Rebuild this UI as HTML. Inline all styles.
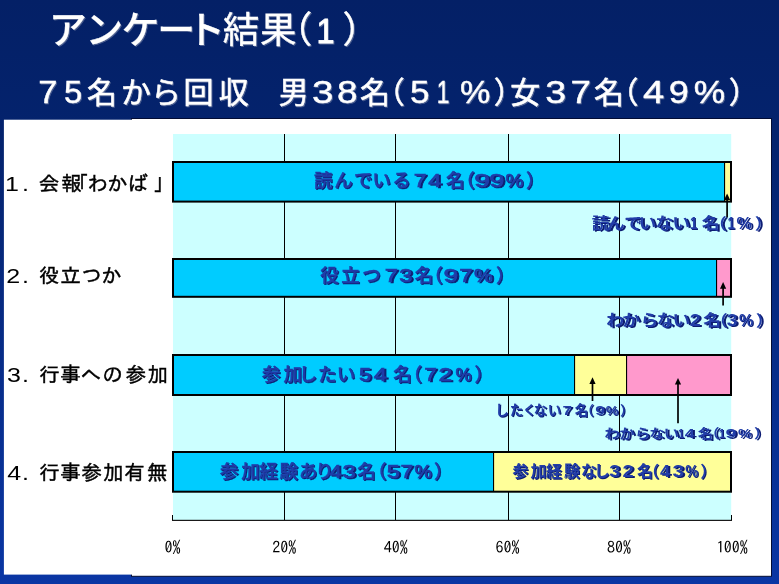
<!DOCTYPE html>
<html lang="ja"><head><meta charset="utf-8"><title>アンケート結果（1）</title>
<style>html,body{margin:0;padding:0;background:#0a2f96;overflow:hidden}svg{display:block}text{white-space:pre}</style></head>
<body>
<svg width="779" height="584" viewBox="0 0 779 584">
<defs>
<linearGradient id="bg" x1="0" y1="0" x2="0" y2="1"><stop offset="0" stop-color="#042066"/><stop offset="0.25" stop-color="#04236e"/><stop offset="1" stop-color="#0a36a4"/></linearGradient>
<filter id="sh" x="-25%" y="-20%" width="150%" height="150%"><feOffset in="SourceAlpha" dx="1.4" dy="1.4" result="o"/><feFlood flood-color="#0c1f72"/><feComposite in2="o" operator="in" result="s"/><feMerge><feMergeNode in="s"/><feMergeNode in="SourceGraphic"/></feMerge></filter>
<filter id="tsh" x="-25%" y="-20%" width="150%" height="150%"><feOffset in="SourceAlpha" dx="1.2" dy="1.2" result="o"/><feFlood flood-color="#8a93b0" flood-opacity="0.55"/><feComposite in2="o" operator="in" result="s"/><feMerge><feMergeNode in="s"/><feMergeNode in="SourceGraphic"/></feMerge></filter>
</defs>
<rect width="779" height="584" fill="url(#bg)"/>
<rect x="131.5" y="118.5" width="640" height="457.8" fill="#fff" stroke="#020c34" stroke-width="1"/>
<rect x="3.9" y="119.7" width="129" height="454.9" fill="#fff"/>
<rect x="173.0" y="134.0" width="558.2" height="386.0" fill="#ccffff"/>
<rect x="284" y="134.0" width="1" height="386.0" fill="#000"/>
<rect x="395" y="134.0" width="1" height="386.0" fill="#000"/>
<rect x="508" y="134.0" width="1" height="386.0" fill="#000"/>
<rect x="619" y="134.0" width="1" height="386.0" fill="#000"/>
<rect x="172" y="519.8" width="560" height="1.1" fill="#000"/>
<rect x="172" y="515" width="1" height="5" fill="#000"/>
<rect x="731" y="515" width="1" height="5" fill="#000"/>
<rect x="173" y="162" width="551.5" height="39.6" fill="#00ccff"/><rect x="724" y="162" width="7.5" height="39.6" fill="#ffff99"/><rect x="724" y="162" width="1.1" height="39.6" fill="#000"/><rect x="173" y="162" width="558" height="39.6" fill="none" stroke="#000" stroke-width="2"/>
<rect x="173" y="259" width="543.5" height="37.8" fill="#00ccff"/><rect x="716" y="259" width="15.5" height="37.8" fill="#ff99cc"/><rect x="716" y="259" width="1.1" height="37.8" fill="#000"/><rect x="173" y="259" width="558" height="37.8" fill="none" stroke="#000" stroke-width="2"/>
<rect x="173" y="355" width="401.5" height="40.0" fill="#00ccff"/><rect x="574" y="355" width="52.5" height="40.0" fill="#ffff99"/><rect x="626" y="355" width="105.5" height="40.0" fill="#ff99cc"/><rect x="574" y="355" width="1.1" height="40.0" fill="#000"/><rect x="626" y="355" width="1.1" height="40.0" fill="#000"/><rect x="173" y="355" width="558" height="40.0" fill="none" stroke="#000" stroke-width="2"/>
<rect x="173" y="452" width="320.5" height="39.7" fill="#00ccff"/><rect x="493" y="452" width="238.5" height="39.7" fill="#ffff99"/><rect x="493" y="452" width="1.1" height="39.7" fill="#000"/><rect x="173" y="452" width="558" height="39.7" fill="none" stroke="#000" stroke-width="2"/>
<path d="M727.1 217.4 V197.4" stroke="#000" stroke-width="1.7" fill="none"/><path d="M727.1 193.4 L730.2 200.0 H724.0 Z" fill="#000"/>
<path d="M723.1 305.5 V286.1" stroke="#000" stroke-width="1.7" fill="none"/><path d="M723.1 282.1 L726.2 288.70000000000005 H720.0 Z" fill="#000"/>
<path d="M592.5 401 V381.3" stroke="#000" stroke-width="1.7" fill="none"/><path d="M592.5 377.3 L595.6 383.90000000000003 H589.4 Z" fill="#000"/>
<path d="M678 423.3 V382" stroke="#000" stroke-width="1.7" fill="none"/><path d="M678 378 L681.1 384.6 H674.9 Z" fill="#000"/>
<g><text y="42.85" font-family='"Liberation Sans", "Noto Sans CJK JP", sans-serif' font-weight="500" fill="#fff" filter="url(#tsh)" stroke="#fff" stroke-width="0.15"><tspan x="48.78 85.26 121.50 157.16 187.04" font-size="38">アンケート</tspan></text></g>
<g><text y="43.08" font-family='"Liberation Sans", "Noto Sans CJK JP", sans-serif' font-weight="400" fill="#fff" filter="url(#tsh)" stroke="#fff" stroke-width="0.35"><tspan x="222.70 259.99 275.79" font-size="36.5">結果（</tspan></text><text transform="translate(316.55 43.08) scale(0.9 1)" font-family='"Liberation Sans", "Noto Sans CJK JP", sans-serif' font-weight="400" font-size="36" fill="#fff" filter="url(#tsh)" stroke="#fff" stroke-width="0.9">1</text><text y="43.08" font-family='"Liberation Sans", "Noto Sans CJK JP", sans-serif' font-weight="400" fill="#fff" filter="url(#tsh)" stroke="#fff" stroke-width="0.35"><tspan x="342.46" font-size="36.5">）</tspan></text></g>
<g><text transform="translate(38.33 102.84) scale(1.092 1)" font-family='"Liberation Sans", "Noto Sans CJK JP", sans-serif' font-weight="400" font-size="31.5" fill="#fff" filter="url(#tsh)" stroke="#fff" stroke-width="0.4">7</text><text transform="translate(63.90 102.84) scale(1.04 1)" font-family='"Liberation Sans", "Noto Sans CJK JP", sans-serif' font-weight="400" font-size="31.5" fill="#fff" filter="url(#tsh)" stroke="#fff" stroke-width="0.4">5</text><text y="102.84" font-family='"Liberation Sans", "Noto Sans CJK JP", sans-serif' font-weight="400" fill="#fff" filter="url(#tsh)" stroke="#fff" stroke-width="0.5"><tspan x="87.09 120.96 150.90 183.44 218.69 278.66" font-size="30">名から回収男</tspan></text><text transform="translate(311.97 102.84) scale(1.224 1)" font-family='"Liberation Sans", "Noto Sans CJK JP", sans-serif' font-weight="400" font-size="31.5" fill="#fff" filter="url(#tsh)" stroke="#fff" stroke-width="0.4">3</text><text transform="translate(336.89 102.84) scale(1.173 1)" font-family='"Liberation Sans", "Noto Sans CJK JP", sans-serif' font-weight="400" font-size="31.5" fill="#fff" filter="url(#tsh)" stroke="#fff" stroke-width="0.4">8</text><text y="102.84" font-family='"Liberation Sans", "Noto Sans CJK JP", sans-serif' font-weight="400" fill="#fff" filter="url(#tsh)" stroke="#fff" stroke-width="0.5"><tspan x="360.09 374.85" font-size="30">名（</tspan></text><text transform="translate(409.91 102.84) scale(1.113 1)" font-family='"Liberation Sans", "Noto Sans CJK JP", sans-serif' font-weight="400" font-size="31.5" fill="#fff" filter="url(#tsh)" stroke="#fff" stroke-width="0.4">5</text><text transform="translate(436.74 102.84) scale(0.72 1)" font-family='"Liberation Sans", "Noto Sans CJK JP", sans-serif' font-weight="400" font-size="31.5" fill="#fff" filter="url(#tsh)" stroke="#fff" stroke-width="0.4">1</text><text transform="translate(459.88 102.84) scale(1.083 1)" font-family='"Liberation Sans", "Noto Sans CJK JP", sans-serif' font-weight="400" font-size="31.5" fill="#fff" filter="url(#tsh)" stroke="#fff" stroke-width="0.4">%</text><text y="102.84" font-family='"Liberation Sans", "Noto Sans CJK JP", sans-serif' font-weight="400" fill="#fff" filter="url(#tsh)" stroke="#fff" stroke-width="0.5"><tspan x="493.85 510.14" font-size="30">）女</tspan></text><text transform="translate(545.31 102.84) scale(1.19 1)" font-family='"Liberation Sans", "Noto Sans CJK JP", sans-serif' font-weight="400" font-size="31.5" fill="#fff" filter="url(#tsh)" stroke="#fff" stroke-width="0.4">3</text><text transform="translate(570.61 102.84) scale(1.162 1)" font-family='"Liberation Sans", "Noto Sans CJK JP", sans-serif' font-weight="400" font-size="31.5" fill="#fff" filter="url(#tsh)" stroke="#fff" stroke-width="0.4">7</text><text y="102.84" font-family='"Liberation Sans", "Noto Sans CJK JP", sans-serif' font-weight="400" fill="#fff" filter="url(#tsh)" stroke="#fff" stroke-width="0.5"><tspan x="594.09 608.55" font-size="30">名（</tspan></text><text transform="translate(642.89 102.84) scale(1.209 1)" font-family='"Liberation Sans", "Noto Sans CJK JP", sans-serif' font-weight="400" font-size="31.5" fill="#fff" filter="url(#tsh)" stroke="#fff" stroke-width="0.4">4</text><text transform="translate(668.78 102.84) scale(1.145 1)" font-family='"Liberation Sans", "Noto Sans CJK JP", sans-serif' font-weight="400" font-size="31.5" fill="#fff" filter="url(#tsh)" stroke="#fff" stroke-width="0.4">9</text><text transform="translate(693.84 102.84) scale(1.122 1)" font-family='"Liberation Sans", "Noto Sans CJK JP", sans-serif' font-weight="400" font-size="31.5" fill="#fff" filter="url(#tsh)" stroke="#fff" stroke-width="0.4">%</text><text y="102.84" font-family='"Liberation Sans", "Noto Sans CJK JP", sans-serif' font-weight="400" fill="#fff" filter="url(#tsh)" stroke="#fff" stroke-width="0.5"><tspan x="728.85" font-size="30">）</tspan></text></g>
<g><text transform="translate(5.08 190.69) scale(1.25 1)" font-family='"Liberation Sans", "IPAGothic", "Noto Sans CJK JP", sans-serif' font-weight="400" font-size="20" fill="#000" >1</text><text transform="translate(21.88 190.69) scale(1.25 1)" font-family='"Liberation Sans", "IPAGothic", "Noto Sans CJK JP", sans-serif' font-weight="400" font-size="20" fill="#000" >.</text><text y="190.69" font-family='"Liberation Sans", "IPAGothic", "Noto Sans CJK JP", sans-serif' font-weight="400" fill="#000" stroke="#000" stroke-width="0.45"><tspan x="38.69 61.15 68.19 87.38 106.89 127.50 153.36" font-size="20.5">会報「わかば」</tspan></text></g>
<g><text transform="translate(6.20 283.00) scale(1.25 1)" font-family='"Liberation Sans", "IPAGothic", "Noto Sans CJK JP", sans-serif' font-weight="400" font-size="20" fill="#000" >2</text><text transform="translate(21.88 283.00) scale(1.25 1)" font-family='"Liberation Sans", "IPAGothic", "Noto Sans CJK JP", sans-serif' font-weight="400" font-size="20" fill="#000" >.</text><text y="283.00" font-family='"Liberation Sans", "IPAGothic", "Noto Sans CJK JP", sans-serif' font-weight="400" fill="#000" stroke="#000" stroke-width="0.45"><tspan x="39.08 60.55 81.62 100.94" font-size="20.5">役立つか</tspan></text></g>
<g><text transform="translate(6.93 381.54) scale(1.25 1)" font-family='"Liberation Sans", "IPAGothic", "Noto Sans CJK JP", sans-serif' font-weight="400" font-size="20" fill="#000" >3</text><text transform="translate(21.88 381.54) scale(1.25 1)" font-family='"Liberation Sans", "IPAGothic", "Noto Sans CJK JP", sans-serif' font-weight="400" font-size="20" fill="#000" >.</text><text y="381.54" font-family='"Liberation Sans", "IPAGothic", "Noto Sans CJK JP", sans-serif' font-weight="400" fill="#000" stroke="#000" stroke-width="0.45"><tspan x="39.08 60.20 80.70 102.24 125.75 147.49" font-size="20.5">行事への参加</tspan></text></g>
<g><text transform="translate(7.28 479.94) scale(1.25 1)" font-family='"Liberation Sans", "IPAGothic", "Noto Sans CJK JP", sans-serif' font-weight="400" font-size="20" fill="#000" >4</text><text transform="translate(21.88 479.94) scale(1.25 1)" font-family='"Liberation Sans", "IPAGothic", "Noto Sans CJK JP", sans-serif' font-weight="400" font-size="20" fill="#000" >.</text><text y="479.94" font-family='"Liberation Sans", "IPAGothic", "Noto Sans CJK JP", sans-serif' font-weight="400" fill="#000" stroke="#000" stroke-width="0.45"><tspan x="39.08 60.20 81.60 103.09 124.19 147.05" font-size="20.5">行事参加有無</tspan></text></g>
<g><text y="186.76" font-family='"Liberation Sans", "Noto Sans CJK JP", sans-serif' font-weight="500" fill="#203ca8" filter="url(#sh)" stroke="#203ca8" stroke-width="0.4"><tspan x="314.08 334.36 354.05 372.31 392.21" font-size="18.5">読んでいる</tspan></text><text transform="translate(413.69 186.76) scale(1.206 1)" font-family='"Liberation Sans", "Noto Sans CJK JP", sans-serif' font-weight="400" font-size="19" fill="#203ca8" filter="url(#sh)" stroke="#203ca8" stroke-width="0.7">7</text><text transform="translate(428.34 186.76) scale(1.236 1)" font-family='"Liberation Sans", "Noto Sans CJK JP", sans-serif' font-weight="400" font-size="19" fill="#203ca8" filter="url(#sh)" stroke="#203ca8" stroke-width="0.7">4</text><text y="186.76" font-family='"Liberation Sans", "Noto Sans CJK JP", sans-serif' font-weight="500" fill="#203ca8" filter="url(#sh)" stroke="#203ca8" stroke-width="0.4"><tspan x="445.95 456.33" font-size="18.5">名（</tspan></text><text transform="translate(474.30 186.76) scale(1.486 1)" font-family='"Liberation Sans", "Noto Sans CJK JP", sans-serif' font-weight="400" font-size="19" fill="#203ca8" filter="url(#sh)" stroke="#203ca8" stroke-width="0.7">9</text><text transform="translate(489.35 186.76) scale(1.429 1)" font-family='"Liberation Sans", "Noto Sans CJK JP", sans-serif' font-weight="400" font-size="19" fill="#203ca8" filter="url(#sh)" stroke="#203ca8" stroke-width="0.7">9</text><text transform="translate(505.54 186.76) scale(1.056 1)" font-family='"Liberation Sans", "Noto Sans CJK JP", sans-serif' font-weight="400" font-size="19" fill="#203ca8" filter="url(#sh)" stroke="#203ca8" stroke-width="0.7">%</text><text y="186.76" font-family='"Liberation Sans", "Noto Sans CJK JP", sans-serif' font-weight="500" fill="#203ca8" filter="url(#sh)" stroke="#203ca8" stroke-width="0.4"><tspan x="526.07" font-size="18.5">）</tspan></text></g>
<g transform="scale(1.15 1)"><text y="229.08" font-family='"Liberation Sans", "Noto Sans CJK JP", sans-serif' font-weight="700" fill="#203ca8" filter="url(#sh)"><tspan x="514.47 527.91 542.80 555.31 570.06 584.48" font-size="15.5">読んでいない</tspan></text><text transform="translate(600.06 229.08) scale(0.72 1)" font-family='"Liberation Sans", "Noto Sans CJK JP", sans-serif' font-weight="700" font-size="16" fill="#203ca8" filter="url(#sh)">1</text><text y="229.08" font-family='"Liberation Sans", "Noto Sans CJK JP", sans-serif' font-weight="700" fill="#203ca8" filter="url(#sh)"><tspan x="610.31 616.63" font-size="15.5">名（</tspan></text><text transform="translate(632.71 229.08) scale(0.72 1)" font-family='"Liberation Sans", "Noto Sans CJK JP", sans-serif' font-weight="700" font-size="16" fill="#203ca8" filter="url(#sh)">1</text><text transform="translate(640.34 229.08) scale(0.94 1)" font-family='"Liberation Sans", "Noto Sans CJK JP", sans-serif' font-weight="700" font-size="16" fill="#203ca8" filter="url(#sh)">%</text><text y="229.08" font-family='"Liberation Sans", "Noto Sans CJK JP", sans-serif' font-weight="700" fill="#203ca8" filter="url(#sh)"><tspan x="656.26" font-size="15.5">）</tspan></text></g>
<g><text y="282.36" font-family='"Liberation Sans", "Noto Sans CJK JP", sans-serif' font-weight="500" fill="#203ca8" filter="url(#sh)" stroke="#203ca8" stroke-width="0.4"><tspan x="320.21 341.35 362.33" font-size="18.5">役立つ</tspan></text><text transform="translate(384.75 282.36) scale(1.252 1)" font-family='"Liberation Sans", "Noto Sans CJK JP", sans-serif' font-weight="400" font-size="19" fill="#203ca8" filter="url(#sh)" stroke="#203ca8" stroke-width="0.7">7</text><text transform="translate(399.17 282.36) scale(1.244 1)" font-family='"Liberation Sans", "Noto Sans CJK JP", sans-serif' font-weight="400" font-size="19" fill="#203ca8" filter="url(#sh)" stroke="#203ca8" stroke-width="0.7">3</text><text y="282.36" font-family='"Liberation Sans", "Noto Sans CJK JP", sans-serif' font-weight="500" fill="#203ca8" filter="url(#sh)" stroke="#203ca8" stroke-width="0.4"><tspan x="414.85 424.27" font-size="18.5">名（</tspan></text><text transform="translate(443.39 282.36) scale(1.383 1)" font-family='"Liberation Sans", "Noto Sans CJK JP", sans-serif' font-weight="400" font-size="19" fill="#203ca8" filter="url(#sh)" stroke="#203ca8" stroke-width="0.7">9</text><text transform="translate(459.35 282.36) scale(1.252 1)" font-family='"Liberation Sans", "Noto Sans CJK JP", sans-serif' font-weight="400" font-size="19" fill="#203ca8" filter="url(#sh)" stroke="#203ca8" stroke-width="0.7">7</text><text transform="translate(474.11 282.36) scale(1.101 1)" font-family='"Liberation Sans", "Noto Sans CJK JP", sans-serif' font-weight="400" font-size="19" fill="#203ca8" filter="url(#sh)" stroke="#203ca8" stroke-width="0.7">%</text><text y="282.36" font-family='"Liberation Sans", "Noto Sans CJK JP", sans-serif' font-weight="500" fill="#203ca8" filter="url(#sh)" stroke="#203ca8" stroke-width="0.4"><tspan x="496.03" font-size="18.5">）</tspan></text></g>
<g transform="scale(1.15 1)"><text y="326.18" font-family='"Liberation Sans", "Noto Sans CJK JP", sans-serif' font-weight="700" fill="#203ca8" filter="url(#sh)"><tspan x="527.24 541.15 556.89 571.06 584.79" font-size="15.5">わからない</tspan></text><text transform="translate(599.81 326.18) scale(1.066 1)" font-family='"Liberation Sans", "Noto Sans CJK JP", sans-serif' font-weight="700" font-size="16" fill="#203ca8" filter="url(#sh)">2</text><text y="326.18" font-family='"Liberation Sans", "Noto Sans CJK JP", sans-serif' font-weight="700" fill="#203ca8" filter="url(#sh)"><tspan x="611.44 617.33" font-size="15.5">名（</tspan></text><text transform="translate(632.04 326.18) scale(1.043 1)" font-family='"Liberation Sans", "Noto Sans CJK JP", sans-serif' font-weight="700" font-size="16" fill="#203ca8" filter="url(#sh)">3</text><text transform="translate(642.71 326.18) scale(0.876 1)" font-family='"Liberation Sans", "Noto Sans CJK JP", sans-serif' font-weight="700" font-size="16" fill="#203ca8" filter="url(#sh)">%</text><text y="326.18" font-family='"Liberation Sans", "Noto Sans CJK JP", sans-serif' font-weight="700" fill="#203ca8" filter="url(#sh)"><tspan x="657.22" font-size="15.5">）</tspan></text></g>
<g><text y="381.16" font-family='"Liberation Sans", "Noto Sans CJK JP", sans-serif' font-weight="500" fill="#203ca8" filter="url(#sh)" stroke="#203ca8" stroke-width="0.4"><tspan x="261.96 283.60 298.81 318.04 336.71" font-size="18.5">参加したい</tspan></text><text transform="translate(359.04 381.16) scale(1.144 1)" font-family='"Liberation Sans", "Noto Sans CJK JP", sans-serif' font-weight="400" font-size="19" fill="#203ca8" filter="url(#sh)" stroke="#203ca8" stroke-width="0.7">5</text><text transform="translate(373.83 381.16) scale(1.247 1)" font-family='"Liberation Sans", "Noto Sans CJK JP", sans-serif' font-weight="400" font-size="19" fill="#203ca8" filter="url(#sh)" stroke="#203ca8" stroke-width="0.7">4</text><text y="381.16" font-family='"Liberation Sans", "Noto Sans CJK JP", sans-serif' font-weight="500" fill="#203ca8" filter="url(#sh)" stroke="#203ca8" stroke-width="0.4"><tspan x="393.35 403.38" font-size="18.5">名（</tspan></text><text transform="translate(424.31 381.16) scale(1.194 1)" font-family='"Liberation Sans", "Noto Sans CJK JP", sans-serif' font-weight="400" font-size="19" fill="#203ca8" filter="url(#sh)" stroke="#203ca8" stroke-width="0.7">7</text><text transform="translate(438.61 381.16) scale(1.287 1)" font-family='"Liberation Sans", "Noto Sans CJK JP", sans-serif' font-weight="400" font-size="19" fill="#203ca8" filter="url(#sh)" stroke="#203ca8" stroke-width="0.7">2</text><text transform="translate(455.41 381.16) scale(0.947 1)" font-family='"Liberation Sans", "Noto Sans CJK JP", sans-serif' font-weight="400" font-size="19" fill="#203ca8" filter="url(#sh)" stroke="#203ca8" stroke-width="0.7">%</text><text y="381.16" font-family='"Liberation Sans", "Noto Sans CJK JP", sans-serif' font-weight="500" fill="#203ca8" filter="url(#sh)" stroke="#203ca8" stroke-width="0.4"><tspan x="474.43" font-size="18.5">）</tspan></text></g>
<g transform="scale(1.03 1)"><text y="414.86" font-family='"Liberation Sans", "Noto Sans CJK JP", sans-serif' font-weight="700" fill="#203ca8" filter="url(#sh)"><tspan x="480.72 494.96 507.55 518.22 531.70" font-size="13.2">したくない</tspan></text><text transform="translate(546.22 414.86) scale(1.227 1)" font-family='"Liberation Sans", "Noto Sans CJK JP", sans-serif' font-weight="700" font-size="13.5" fill="#203ca8" filter="url(#sh)">7</text><text y="414.86" font-family='"Liberation Sans", "Noto Sans CJK JP", sans-serif' font-weight="700" fill="#203ca8" filter="url(#sh)"><tspan x="557.90 563.49" font-size="13.2">名（</tspan></text><text transform="translate(577.82 414.86) scale(1.255 1)" font-family='"Liberation Sans", "Noto Sans CJK JP", sans-serif' font-weight="700" font-size="13.5" fill="#203ca8" filter="url(#sh)">9</text><text transform="translate(588.16 414.86) scale(1.027 1)" font-family='"Liberation Sans", "Noto Sans CJK JP", sans-serif' font-weight="700" font-size="13.5" fill="#203ca8" filter="url(#sh)">%</text><text y="414.86" font-family='"Liberation Sans", "Noto Sans CJK JP", sans-serif' font-weight="700" fill="#203ca8" filter="url(#sh)"><tspan x="601.90" font-size="13.2">）</tspan></text></g>
<g transform="scale(1.18 1)"><text y="437.86" font-family='"Liberation Sans", "Noto Sans CJK JP", sans-serif' font-weight="700" fill="#203ca8" filter="url(#sh)"><tspan x="512.23 524.86 538.14 550.26 562.47" font-size="13">わからない</tspan></text><text transform="translate(574.54 437.86) scale(0.72 1)" font-family='"Liberation Sans", "Noto Sans CJK JP", sans-serif' font-weight="700" font-size="13.5" fill="#203ca8" filter="url(#sh)">1</text><text transform="translate(580.40 437.86) scale(1.122 1)" font-family='"Liberation Sans", "Noto Sans CJK JP", sans-serif' font-weight="700" font-size="13.5" fill="#203ca8" filter="url(#sh)">4</text><text y="437.86" font-family='"Liberation Sans", "Noto Sans CJK JP", sans-serif' font-weight="700" fill="#203ca8" filter="url(#sh)"><tspan x="591.27 596.79" font-size="13">名（</tspan></text><text transform="translate(609.03 437.86) scale(0.72 1)" font-family='"Liberation Sans", "Noto Sans CJK JP", sans-serif' font-weight="700" font-size="13.5" fill="#203ca8" filter="url(#sh)">1</text><text transform="translate(614.80 437.86) scale(1.252 1)" font-family='"Liberation Sans", "Noto Sans CJK JP", sans-serif' font-weight="700" font-size="13.5" fill="#203ca8" filter="url(#sh)">9</text><text transform="translate(625.32 437.86) scale(0.942 1)" font-family='"Liberation Sans", "Noto Sans CJK JP", sans-serif' font-weight="700" font-size="13.5" fill="#203ca8" filter="url(#sh)">%</text><text y="437.86" font-family='"Liberation Sans", "Noto Sans CJK JP", sans-serif' font-weight="700" fill="#203ca8" filter="url(#sh)"><tspan x="639.07" font-size="13">）</tspan></text></g>
<g><text y="477.86" font-family='"Liberation Sans", "Noto Sans CJK JP", sans-serif' font-weight="500" fill="#203ca8" filter="url(#sh)" stroke="#203ca8" stroke-width="0.4"><tspan x="219.91 241.15 259.21 279.49 299.08 315.19" font-size="18.5">参加経験あり</tspan></text><text transform="translate(329.57 477.86) scale(1.153 1)" font-family='"Liberation Sans", "Noto Sans CJK JP", sans-serif' font-weight="400" font-size="19" fill="#203ca8" filter="url(#sh)" stroke="#203ca8" stroke-width="0.7">4</text><text transform="translate(342.47 477.86) scale(1.233 1)" font-family='"Liberation Sans", "Noto Sans CJK JP", sans-serif' font-weight="400" font-size="19" fill="#203ca8" filter="url(#sh)" stroke="#203ca8" stroke-width="0.7">3</text><text y="477.86" font-family='"Liberation Sans", "Noto Sans CJK JP", sans-serif' font-weight="500" fill="#203ca8" filter="url(#sh)" stroke="#203ca8" stroke-width="0.4"><tspan x="357.15 368.02" font-size="18.5">名（</tspan></text><text transform="translate(386.68 477.86) scale(1.233 1)" font-family='"Liberation Sans", "Noto Sans CJK JP", sans-serif' font-weight="400" font-size="19" fill="#203ca8" filter="url(#sh)" stroke="#203ca8" stroke-width="0.7">5</text><text transform="translate(400.61 477.86) scale(1.194 1)" font-family='"Liberation Sans", "Noto Sans CJK JP", sans-serif' font-weight="400" font-size="19" fill="#203ca8" filter="url(#sh)" stroke="#203ca8" stroke-width="0.7">7</text><text transform="translate(414.56 477.86) scale(1.03 1)" font-family='"Liberation Sans", "Noto Sans CJK JP", sans-serif' font-weight="400" font-size="19" fill="#203ca8" filter="url(#sh)" stroke="#203ca8" stroke-width="0.7">%</text><text y="477.86" font-family='"Liberation Sans", "Noto Sans CJK JP", sans-serif' font-weight="500" fill="#203ca8" filter="url(#sh)" stroke="#203ca8" stroke-width="0.4"><tspan x="434.02" font-size="18.5">）</tspan></text></g>
<g><text y="477.12" font-family='"Liberation Sans", "Noto Sans CJK JP", sans-serif' font-weight="700" fill="#203ca8" filter="url(#sh)"><tspan x="512.41 530.44 546.06 563.99 581.04 594.05" font-size="16">参加経験なし</tspan></text><text transform="translate(609.26 477.12) scale(1.176 1)" font-family='"Liberation Sans", "Noto Sans CJK JP", sans-serif' font-weight="700" font-size="16.5" fill="#203ca8" filter="url(#sh)">3</text><text transform="translate(622.49 477.12) scale(1.213 1)" font-family='"Liberation Sans", "Noto Sans CJK JP", sans-serif' font-weight="700" font-size="16.5" fill="#203ca8" filter="url(#sh)">2</text><text y="477.12" font-family='"Liberation Sans", "Noto Sans CJK JP", sans-serif' font-weight="700" fill="#203ca8" filter="url(#sh)"><tspan x="636.97 643.31" font-size="16">名（</tspan></text><text transform="translate(660.03 477.12) scale(1.093 1)" font-family='"Liberation Sans", "Noto Sans CJK JP", sans-serif' font-weight="700" font-size="16.5" fill="#203ca8" filter="url(#sh)">4</text><text transform="translate(672.43 477.12) scale(1.248 1)" font-family='"Liberation Sans", "Noto Sans CJK JP", sans-serif' font-weight="700" font-size="16.5" fill="#203ca8" filter="url(#sh)">3</text><text transform="translate(685.36 477.12) scale(0.894 1)" font-family='"Liberation Sans", "Noto Sans CJK JP", sans-serif' font-weight="700" font-size="16.5" fill="#203ca8" filter="url(#sh)">%</text><text y="477.12" font-family='"Liberation Sans", "Noto Sans CJK JP", sans-serif' font-weight="700" fill="#203ca8" filter="url(#sh)"><tspan x="700.24" font-size="16">）</tspan></text></g>
<text y="552.8" font-family='"IPAGothic", "Liberation Sans", sans-serif' font-size="16" fill="#000" x="164.50 172.50">0%</text>
<text y="552.8" font-family='"IPAGothic", "Liberation Sans", sans-serif' font-size="16" fill="#000" x="272.20 280.14 288.14">20%</text>
<text y="552.8" font-family='"IPAGothic", "Liberation Sans", sans-serif' font-size="16" fill="#000" x="383.78 391.78 399.78">40%</text>
<text y="552.8" font-family='"IPAGothic", "Liberation Sans", sans-serif' font-size="16" fill="#000" x="495.42 503.42 511.42">60%</text>
<text y="552.8" font-family='"IPAGothic", "Liberation Sans", sans-serif' font-size="16" fill="#000" x="607.06 615.06 623.06">80%</text>
<text y="552.8" font-family='"IPAGothic", "Liberation Sans", sans-serif' font-size="16" fill="#000" x="716.42 723.80 731.80 739.80">100%</text>
</svg>
</body></html>
